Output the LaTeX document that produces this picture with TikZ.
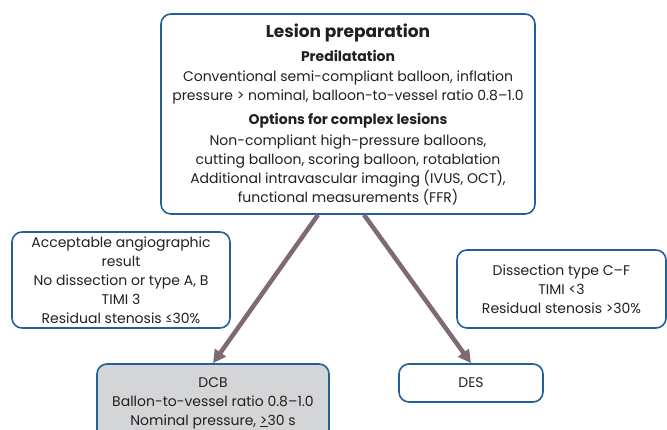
\documentclass[tikz,border=0pt]{standalone}
\usepackage{fontspec}
\setmainfont{Poppins}
\usetikzlibrary{arrows.meta, calc}
\definecolor{boxblue}{RGB}{35,95,155}
\definecolor{arrowgray}{RGB}{126,106,116}
\definecolor{textdark}{RGB}{35,31,32}
\definecolor{dcbgray}{RGB}{212,213,215}

\begin{document}
\begin{tikzpicture}[
  x=1pt, y=-1pt,
  box/.style={draw=boxblue, line width=1.6pt, rounded corners=10pt, align=center,
              text=textdark, inner sep=0pt,
              font=\fontsize{14}{19}\selectfont},
  arrow/.style={-{Triangle[length=13pt, width=13pt]}, line width=4.5pt, arrowgray}
]
  \useasboundingbox (0,0) rectangle (667,430);
  \node[box, minimum width=374pt, minimum height=200pt] (prep) at (348,114)
    {{\fontsize{17}{20}\selectfont\bfseries Lesion preparation}\\[5pt]
     {\bfseries Predilatation}\\[1pt]
     Conventional semi-compliant balloon, inflation\\
     pressure > nominal, balloon-to-vessel ratio 0.8--1.0\\[5pt]
     {\bfseries Options for complex lesions}\\[2pt]
     Non-compliant high-pressure balloons,\\
     cutting balloon, scoring balloon, rotablation\\
     Additional intravascular imaging (IVUS, OCT),\\
     functional measurements (FFR)};
  \node[box, minimum width=218pt, minimum height=96pt] (good) at (121,280)
    {Acceptable angiographic\\ result\\ No dissection or type A, B\\ TIMI 3\\ Residual stenosis ≤30\%};
  \node[box, minimum width=209pt, minimum height=78pt] (bad) at (561.5,289)
    {Dissection type C--F\\ TIMI <3\\ Residual stenosis >30\%};
  \node[box, fill=dcbgray, minimum width=232pt, minimum height=78pt] (dcb) at (213,403)
    {DCB\\ Ballon-to-vessel ratio 0.8--1.0\\ Nominal pressure, \underline{>}30 s};
  \node[box, minimum width=144pt, minimum height=38pt] (des) at (471,383) {DES};
  % arrows from the preparation box
  \coordinate (outl) at ($(prep.south)+(-30,0)$);
  \coordinate (outr) at ($(prep.south)+(16,0)$);
  \draw[arrow] (outl) -- (dcb.north);
  \draw[arrow] (outr) -- (des.north);
\end{tikzpicture}
\end{document}
